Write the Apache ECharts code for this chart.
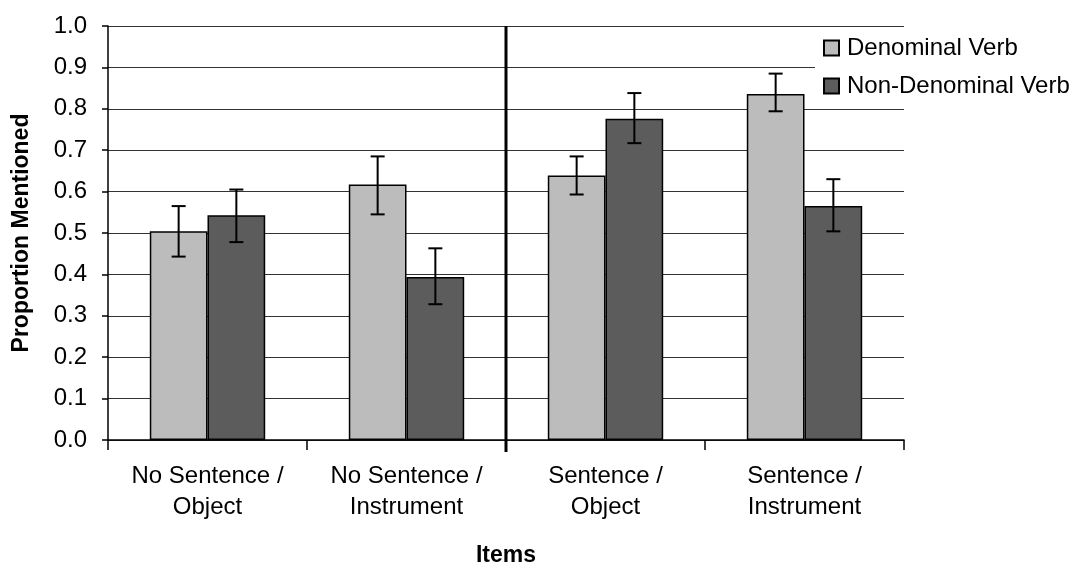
<!DOCTYPE html>
<html><head><meta charset="utf-8">
<script src="https://cdn.jsdelivr.net/npm/echarts@6/dist/echarts.min.js"></script>
<style>html,body{margin:0;padding:0;background:#fff}#c{width:1084px;height:566px}</style>
</head><body><div id="c"></div>
<script>
var categories = ['No Sentence /\nObject', 'No Sentence /\nInstrument', 'Sentence /\nObject', 'Sentence /\nInstrument'];
var seriesNames = ['Denominal Verb', 'Non-Denominal Verb'];
var denominal = [0.504, 0.617, 0.639, 0.836];
var denominalLow = [0.443, 0.545, 0.593, 0.794];
var denominalHigh = [0.565, 0.685, 0.685, 0.885];
var nonDenominal = [0.543, 0.394, 0.776, 0.565];
var nonDenominalLow = [0.478, 0.328, 0.717, 0.504];
var nonDenominalHigh = [0.605, 0.463, 0.838, 0.630];
var yTicks = ['0.0','0.1','0.2','0.3','0.4','0.5','0.6','0.7','0.8','0.9','1.0'];

var FONT = '"Liberation Sans", Arial, sans-serif';
var CAT_GAP = 0.42;

function errData(low, high, side) {
  return low.map(function (l, i) { return [i, l, high[i], side]; });
}
function renderErr(params, api) {
  var i = api.value(0), lo = api.value(1), hi = api.value(2), side = api.value(3);
  var band = api.size([1, 0])[0];
  var barW = band * (1 - CAT_GAP) / 2;
  var c = api.coord([i, lo]);
  var x = c[0] + side * barW / 2;
  var yLo = c[1];
  var yHi = api.coord([i, hi])[1];
  var cap = 7;
  var st = { stroke: '#000', lineWidth: 2 };
  return { type: 'group', children: [
    { type: 'line', shape: { x1: x, y1: yLo, x2: x, y2: yHi }, style: st },
    { type: 'line', shape: { x1: x - cap, y1: yHi, x2: x + cap, y2: yHi }, style: st },
    { type: 'line', shape: { x1: x - cap, y1: yLo, x2: x + cap, y2: yLo }, style: st }
  ]};
}

var chart = echarts.init(document.getElementById('c'), null, { renderer: 'canvas' });
var option = {
  animation: false,
  backgroundColor: '#fff',
  textStyle: { fontFamily: FONT },
  grid: { left: 108, right: 180, top: 26, bottom: 126, outerBoundsMode: 'none', containLabel: false },
  legend: {
    data: seriesNames,
    orient: 'vertical',
    left: 815, top: 30,
    padding: [6, 8, 8, 8],
    backgroundColor: '#fff',
    itemWidth: 15, itemHeight: 15, itemGap: 14,
    icon: 'rect',
    textStyle: { fontFamily: FONT, fontSize: 24, color: '#000', padding: [0, 0, 0, 3] }
  },
  xAxis: {
    type: 'category',
    data: categories,
    name: 'Items',
    nameLocation: 'middle',
    nameGap: 104,
    nameTextStyle: { fontFamily: FONT, fontSize: 23, fontWeight: 'bold', color: '#000' },
    axisLine: { lineStyle: { color: '#000', width: 1.5 } },
    axisTick: { show: true, length: 10, lineStyle: { color: '#000', width: 1.5 } },
    axisLabel: { fontFamily: FONT, fontSize: 24, color: '#000', margin: 21, lineHeight: 31, interval: 0 }
  },
  yAxis: {
    type: 'value',
    min: 0, max: 1, interval: 0.1,
    name: 'Proportion Mentioned',
    nameLocation: 'middle',
    nameGap: 75,
    nameRotate: 90,
    nameTextStyle: { fontFamily: FONT, fontSize: 23, fontWeight: 'bold', color: '#000' },
    axisLine: { show: true, lineStyle: { color: '#000', width: 1.5 } },
    axisTick: { show: true, length: 6, lineStyle: { color: '#000', width: 1.5 } },
    axisLabel: { fontFamily: FONT, fontSize: 24, color: '#000', margin: 21,
      formatter: function (v) { return yTicks[Math.round(v * 10)]; } },
    splitLine: { lineStyle: { color: '#333', width: 1 } }
  },
  series: [
    { name: seriesNames[0], type: 'bar', data: denominal, barGap: '0%', barCategoryGap: (CAT_GAP * 100) + '%',
      itemStyle: { color: '#bcbcbc', borderColor: '#000', borderWidth: 1.5 } },
    { name: seriesNames[1], type: 'bar', data: nonDenominal, barGap: '0%', barCategoryGap: (CAT_GAP * 100) + '%',
      itemStyle: { color: '#5c5c5c', borderColor: '#000', borderWidth: 1.5 } },
    { type: 'custom', renderItem: renderErr, data: errData(denominalLow, denominalHigh, -1), z: 5,
      encode: { x: 0, y: [1, 2] } },
    { type: 'custom', renderItem: renderErr, data: errData(nonDenominalLow, nonDenominalHigh, 1), z: 5,
      encode: { x: 0, y: [1, 2] } }
  ]
};
chart.setOption(option);

var p1 = chart.convertToPixel({ xAxisIndex: 0 }, 1);
var p2 = chart.convertToPixel({ xAxisIndex: 0 }, 2);
var yTop = chart.convertToPixel({ yAxisIndex: 0 }, 1);
var yBot = chart.convertToPixel({ yAxisIndex: 0 }, 0);
var xd = (p1 + p2) / 2;
chart.setOption({ graphic: [{ type: 'line', z: 10,
  shape: { x1: xd, y1: yTop, x2: xd, y2: yBot + 12 },
  style: { stroke: '#000', lineWidth: 3 } }] });
</script></body></html>
